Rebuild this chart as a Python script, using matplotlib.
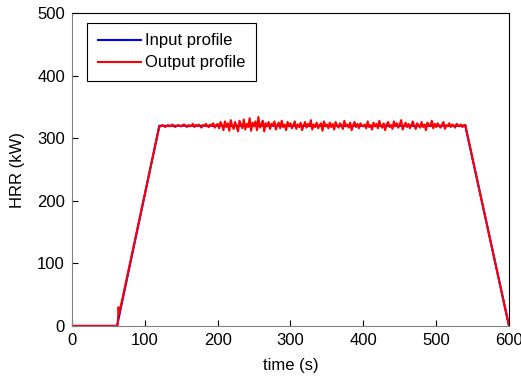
import numpy as np
import matplotlib.pyplot as plt

plt.rcParams['font.family'] = ['Liberation Sans', 'DejaVu Sans']

# input HRR profile (breakpoints)
input_time = [0, 62, 120, 540, 600]
input_hrr = [0, 0, 320, 320, 0]

# output profile: ramp-up points, measured plateau every 2 s, ramp-down
ramp_up_time = [0, 62, 63, 64, 65, 120]
ramp_up_hrr = [0, 0, 3, 30, 20, 319]
plateau_hrr = [
    319, 321, 320, 318, 320, 321, 319, 320, 322, 319, 318, 320, 321, 320, 319, 321, 322, 320, 318, 321,
    319, 320, 323, 318, 321, 320, 322, 319, 317, 321, 320, 323, 319, 318, 322, 320, 324, 317, 321, 323,
    316, 326, 321, 313, 327, 318, 324, 312, 329, 320, 315, 326, 319, 311, 328, 322, 316, 330, 314, 323,
    318, 332, 312, 325, 319, 327, 313, 334, 317, 322, 328, 311, 324, 319, 326,
    315, 323, 320, 327, 314, 321, 325, 316, 328, 318, 322, 313, 326, 319, 324, 316, 321, 327, 315, 322,
    318, 325, 313, 320, 326, 317, 323, 319, 329, 314, 322, 318, 325, 316, 321, 324, 312, 327, 319, 322,
    316, 325, 318, 323, 314, 326, 320, 317, 324, 321, 315, 328, 319, 322, 317, 325, 313, 321, 326, 318,
    323, 316, 324, 320, 319,
    322, 316, 327, 318, 321, 314, 325, 319, 323, 316, 328, 320, 317, 324, 313, 322, 326, 318, 321, 315,
    327, 319, 324, 317, 322, 329, 314, 320, 325, 318, 323, 316, 321, 327, 319, 315, 324, 320, 317, 326,
    318, 322, 313, 325, 321, 319, 328, 316, 323, 318, 324, 320, 317, 322, 326, 315, 321, 319, 324, 318,
    322, 320, 317, 323, 321, 319, 322, 318, 321, 320,
]
ramp_down_time = [540, 600]
ramp_down_hrr = [321, 0]

plateau_time = list(np.arange(122, 122 + 2 * len(plateau_hrr), 2))
output_time = ramp_up_time + plateau_time + ramp_down_time
output_hrr = ramp_up_hrr + plateau_hrr + ramp_down_hrr

fig = plt.figure(figsize=(5.21, 3.88), dpi=100)
ax = fig.add_axes([0.138, 0.160, 0.839, 0.806])

ax.plot(input_time, input_hrr, color='#0000ff', lw=1.5, label='Input profile')
ax.plot(output_time, output_hrr, color='#ff0000', lw=1.5, label='Output profile')

ax.set_xlim(0, 600)
ax.set_ylim(0, 500)
ax.set_xticks(range(0, 601, 100))
ax.set_yticks(range(0, 501, 100))
ax.tick_params(direction='in', length=4, labelsize=12, top=False, right=False,
               color='black', pad=5)
ax.set_xlabel('time (s)', fontsize=12, labelpad=7)
ax.set_ylabel('HRR (kW)', fontsize=12, labelpad=9)
for s in ['left', 'bottom']:
    ax.spines[s].set_color('#808080')
for s in ['top', 'right']:
    ax.spines[s].set_color('black')

leg = ax.legend(loc='upper left', bbox_to_anchor=(0.034, 0.97), fontsize=12,
                fancybox=False, framealpha=1, handlelength=2.6, handletextpad=0.25,
                borderpad=0.65, labelspacing=0.42, borderaxespad=0)
leg.get_frame().set_edgecolor('black')
leg.get_frame().set_linewidth(0.8)
for line in leg.get_lines():
    line.set_linewidth(1.5)

fig.savefig('out.png')
